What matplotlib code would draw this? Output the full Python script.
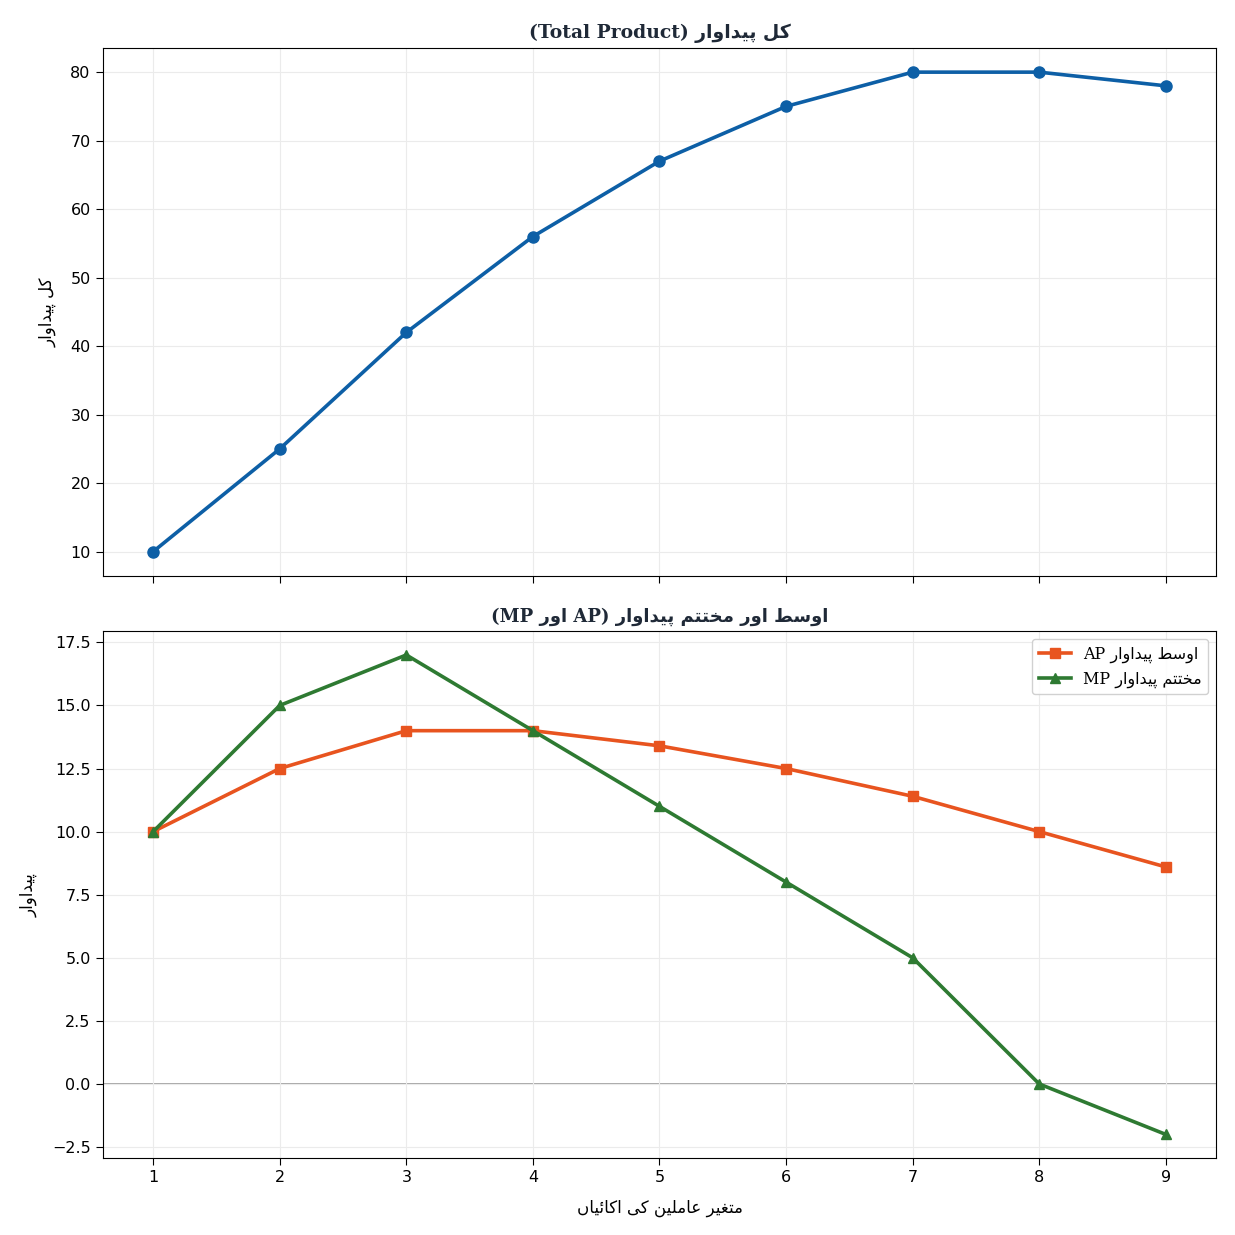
import matplotlib
matplotlib.use("Agg")
import matplotlib.pyplot as plt

# units of the variable factor
units = [1, 2, 3, 4, 5, 6, 7, 8, 9]
total_product = [10, 25, 42, 56, 67, 75, 80, 80, 78]
average_product = [10, 12.5, 14, 14, 13.4, 12.5, 11.4, 10, 8.6]
marginal_product = [10, 15, 17, 14, 11, 8, 5, 0, -2]

# (isolated, final, initial, medial) presentation forms
FORMS = {
    "\u0627": ("\uFE8D", "\uFE8E", None, None),
    "\u062F": ("\uFEA9", "\uFEAA", None, None),
    "\u0631": ("\uFEAD", "\uFEAE", None, None),
    "\u0648": ("\uFEED", "\uFEEE", None, None),
    "\u0644": ("\uFEDD", "\uFEDE", "\uFEDF", "\uFEE0"),
    "\u0633": ("\uFEB1", "\uFEB2", "\uFEB3", "\uFEB4"),
    "\u0637": ("\uFEC1", "\uFEC2", "\uFEC3", "\uFEC4"),
    "\u0645": ("\uFEE1", "\uFEE2", "\uFEE3", "\uFEE4"),
    "\u062E": ("\uFEA5", "\uFEA6", "\uFEA7", "\uFEA8"),
    "\u062A": ("\uFE95", "\uFE96", "\uFE97", "\uFE98"),
    "\u063A": ("\uFECD", "\uFECE", "\uFECF", "\uFED0"),
    "\u0639": ("\uFEC9", "\uFECA", "\uFECB", "\uFECC"),
    "\u0646": ("\uFEE5", "\uFEE6", "\uFEE7", "\uFEE8"),
    "\u0626": ("\uFE89", "\uFE8A", "\uFE8B", "\uFE8C"),
    "\u067E": ("\uFB56", "\uFB57", "\uFB58", "\uFB59"),
    "\u06A9": ("\uFB8E", "\uFB8F", "\uFB90", "\uFB91"),
    "\u06CC": ("\uFBFC", "\uFBFD", "\uFBFE", "\uFBFF"),
    "\u06BA": ("\uFB9E", "\uFB9F", None, None),
}


def joins_next(ch):
    f = FORMS.get(ch)
    return f is not None and f[2] is not None


def ur(text):
    # shape Urdu letters and return them in visual order
    out = []
    for i, ch in enumerate(text):
        f = FORMS.get(ch)
        if f is None:
            out.append(ch)
            continue
        prev = text[i - 1] if i > 0 else ""
        nxt = text[i + 1] if i + 1 < len(text) else ""
        left = joins_next(prev)
        right = nxt in FORMS and f[2] is not None
        if left and right:
            out.append(f[3])
        elif left:
            out.append(f[1])
        elif right:
            out.append(f[2])
        else:
            out.append(f[0])
    return "".join(out)[::-1]


plt.rcParams["font.family"] = ["DejaVu Sans"]
title_font = ["DejaVu Serif", "DejaVu Sans"]
title_color = "#1f2937"

fig, (ax1, ax2) = plt.subplots(2, 1, figsize=(12.35, 12.35), dpi=100, sharex=True)
fig.subplots_adjust(left=0.083, right=0.985, top=0.961, bottom=0.062, hspace=0.105)

ax1.plot(units, total_product, color="#0d5fa6", marker="o", lw=2.6, ms=8)
ax1.set_title("(Total Product) " + ur("کل پیداوار"), fontsize=13.5, fontweight="bold",
              family=title_font, color=title_color, pad=7)
ax1.set_ylabel(ur("کل پیداوار"), fontsize=12, labelpad=10)
ax1.grid(True, color="#ebebeb", lw=0.8)
ax1.tick_params(labelsize=11.5, length=5)

ax2.plot(units, average_product, color="#e8541f", marker="s", lw=2.6, ms=7,
         label="AP " + ur("اوسط پیداوار"))
ax2.plot(units, marginal_product, color="#2e7a32", marker="^", lw=2.6, ms=7,
         label="MP " + ur("مختتم پیداوار"))
ax2.axhline(0, color="#999999", lw=1.2, zorder=1)
ax2.set_title("(MP " + ur("اور") + " AP) " + ur("اوسط اور مختتم پیداوار"), fontsize=13,
              fontweight="bold", family=title_font, color=title_color, pad=7)
ax2.set_ylabel(ur("پیداوار"), fontsize=12, labelpad=10)
ax2.set_xlabel(ur("متغیر عاملین کی اکائیاں"), fontsize=12, labelpad=10)
ax2.grid(True, color="#ebebeb", lw=0.8)
ax2.tick_params(labelsize=11.5, length=5)
ax2.set_xticks(units)
ax2.set_yticks([-2.5, 0, 2.5, 5, 7.5, 10, 12.5, 15, 17.5])
leg = ax2.legend(loc="upper right", prop={"family": title_font, "size": 11.5}, framealpha=0.9)

fig.savefig("out.png", dpi=100)
